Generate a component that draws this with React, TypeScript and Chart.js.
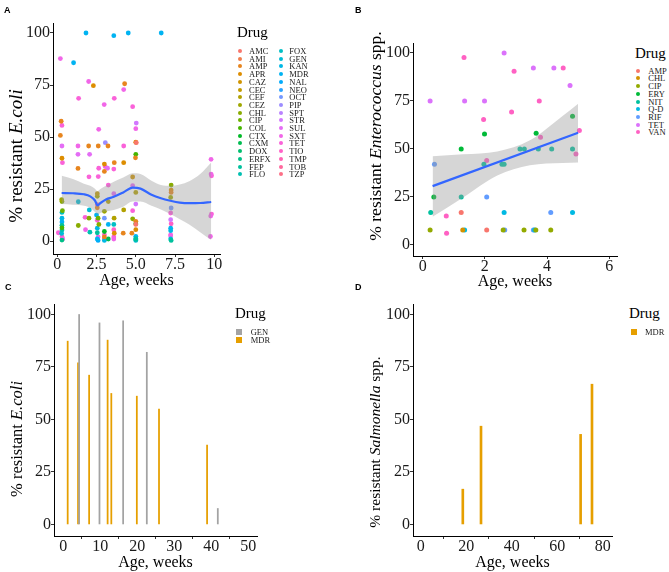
import React, { useEffect, useRef } from 'react';
import { Chart, registerables } from 'chart.js';
Chart.register(...registerables);

const SERIF = '"Liberation Serif", "Times New Roman", Times, serif';
const SANS = '"Liberation Sans", Arial, sans-serif';

// ---------------- shared ----------------
const yTickValues = [0, 25, 50, 75, 100];
const yTickLabels = ['0', '25', '50', '75', '100'];

// ---------------- Panel A ----------------
const drugsA = ['AMC', 'AMI', 'AMP', 'APR', 'CAZ', 'CEC', 'CEF', 'CEZ', 'CHL', 'CIP', 'COL', 'CTX', 'CXM', 'DOX', 'ERFX', 'FEP', 'FLO',
  'FOX', 'GEN', 'KAN', 'MDR', 'NAL', 'NEO', 'OCT', 'PIP', 'SPT', 'STR', 'SUL', 'SXT', 'TET', 'TIO', 'TMP', 'TOB', 'TZP'];

const ageA = [
  0.20, 0.25, 0.30, 0.20, 0.30, 0.30, 0.33, 0.28, 0.30, 0.33, 0.30, 0.30, 0.30, 0.30, 0.30, 0.30, 0.28, 0.07, 0.30, 0.35, 0.30,
  1.04, 1.36, 1.32, 1.32, 1.32, 1.34, 1.34,
  1.83, 2.00, 2.00, 2.06, 2.02, 1.77, 1.80, 2.04, 2.02, 2.08, 2.30,
  2.61, 2.64, 2.64, 2.61, 2.55, 2.55, 2.55, 2.55, 2.50, 2.60, 2.55, 2.65, 2.55, 2.55, 2.60, 2.55, 2.60,
  2.99, 3.06, 3.23, 3.00, 3.05, 3.00, 3.20, 3.25, 3.25, 3.00, 3.00, 3.25, 3.00, 3.00, 3.00, 3.00, 3.25, 3.00,
  3.60, 3.63, 3.63, 3.60, 3.60, 3.62, 3.60, 3.60, 3.63, 3.60, 3.60,
  4.29, 4.23, 4.23, 4.23, 4.23, 4.20, 4.52,
  4.80, 5.03, 5.00, 5.00, 5.03, 5.00, 4.98, 4.80, 4.80, 5.00, 5.00, 4.80, 4.80, 5.00, 5.00, 5.00, 5.00, 4.75, 5.00, 5.00, 5.00, 5.00,
  6.62, 7.25, 7.25, 7.25, 7.22, 7.25, 7.22, 7.22, 7.25, 7.22, 7.22, 7.22, 7.22, 7.22, 7.25,
  9.79, 9.79, 9.82, 9.82, 9.77, 9.75,
];
const pctA = [
  87.7, 57.6, 55.6, 50.8, 45.7, 39.8, 37.7, 19.9, 19.0, 14.6, 13.8, 11.0, 9.2, 7.6, 6.4, 5.3, 3.7, 4.0, 2.1, 1.0, 0.5,
  85.7, 68.6, 45.7, 41.7, 34.9, 18.9, 7.5,
  100, 76.7, 45.7, 41.7, 30.9, 11.4, 5.5, 15.0, 11.0, 4.3, 74.7,
  45.7, 53.7, 35.0, 31.0, 22.8, 21.5, 16.0, 17.5, 12.5, 11.0, 10.0, 8.0, 6.2, 4.0, 2.0, 1.0, 0.3,
  65.6, 47.3, 45.7, 37.0, 35.8, 33.5, 35.0, 26.9, 19.0, 14.3, 11.0, 8.0, 4.6, 3.0, 2.0, 1.0, 1.0, 0.3,
  98.7, 68.6, 37.7, 34.6, 22.8, 11.0, 8.0, 5.5, 3.8, 2.0, 1.0,
  75.6, 72.8, 45.7, 37.7, 15.0, 3.8, 100,
  64.6, 56.7, 54.0, 47.5, 47.3, 41.7, 40.0, 30.8, 26.6, 23.4, 17.8, 14.6, 10.7, 9.5, 8.3, 8.0, 5.5, 3.8, 2.3, 1.3, 0.8, 0.3,
  100, 26.9, 24.5, 23.4, 21.0, 15.9, 13.5, 10.3, 8.3, 6.2, 5.0, 3.0, 2.5, 1.0, 0.3,
  39.3, 32.2, 31.4, 13.0, 12.0, 2.2,
];
const drugA = [
  'SXT', 'AMP', 'TET', 'AMP', 'SUL', 'APR', 'TET', 'CEZ', 'CHL', 'CIP', 'FOX', 'KAN', 'MDR', 'FEP', 'COL', 'FLO', 'GEN', 'TET', 'TIO', 'SXT', 'ERFX',
  'MDR', 'TET', 'SXT', 'SUL', 'AMP', 'GEN', 'CHL',
  'MDR', 'SXT', 'AMP', 'SUL', 'TET', 'TET', 'SXT', 'GEN', 'CHL', 'FLO', 'APR',
  'AMP', 'SXT', 'TET', 'TET', 'CEC', 'CEZ', 'AMP', 'TMP', 'MDR', 'CIP', 'TET', 'CHL', 'KAN', 'FEP', 'SXT', 'MDR', 'NAL',
  'SXT', 'PIP', 'AMP', 'APR', 'TET', 'AMP', 'SUL', 'TET', 'CEF', 'CEZ', 'OCT', 'MDR', 'CTX', 'TET', 'AMP', 'TIO', 'CXM', 'KAN',
  'MDR', 'TET', 'AMP', 'TET', 'SUL', 'CEF', 'FOX', 'TIO', 'APR', 'TET', 'SXT',
  'AMP', 'SXT', 'TET', 'APR', 'CEF', 'AMP', 'MDR',
  'TET', 'STR', 'SXT', 'APR', 'AMC', 'COL', 'AMP', 'CAZ', 'SUL', 'CEF', 'STR', 'TET', 'CHL', 'AMP', 'CTX', 'AMC', 'APR', 'AMP', 'MDR', 'FLO', 'FEP', 'GEN',
  'MDR', 'CHL', 'APR', 'AMP', 'CEZ', 'OCT', 'TET', 'STR', 'TIO', 'MDR', 'KAN', 'TET', 'SXT', 'GEN', 'FEP',
  'SXT', 'SXT', 'TET', 'TET', 'SXT', 'SXT',
];
const smoothXA = [0.28, 1.0, 1.7, 2.1, 2.4, 2.57, 2.75, 3.1, 3.6, 4.2, 4.8, 5.3, 6.0, 6.6, 7.2, 7.8, 8.4, 9.1, 9.8];
const smoothYA = [23.1, 23.0, 22.5, 21.5, 19.5, 17.2, 18.3, 20.0, 21.3, 23.4, 25.7, 25.2, 22.3, 20.6, 19.4, 18.5, 18.2, 18.3, 18.8];
const smoothHighA = [31.4, 29.8, 27.6, 26.6, 25.2, 24.0, 25.0, 26.6, 28.5, 30.5, 32.6, 32.2, 29.0, 27.0, 26.6, 27.2, 28.8, 32.2, 37.8];
const smoothLowA = [17.8, 17.5, 17.0, 16.0, 14.0, 12.8, 13.5, 14.2, 15.0, 16.5, 19.0, 19.0, 17.0, 15.2, 13.0, 10.5, 8.0, 4.3, 0.5];
const xTicksA = [0, 2.5, 5, 7.5, 10];
const xTickLabelsA = ['0', '2.5', '5.0', '7.5', '10'];

// ---------------- Panel B ----------------
const drugsB = ['AMP', 'CHL', 'CIP', 'ERY', 'NIT', 'Q-D', 'RIF', 'TET', 'VAN'];
const ageB = [
  0.24, 1.35, 1.99, 2.62, 3.56, 4.22, 4.74,
  1.33, 2.94, 4.52, 3.75, 2.86, 1.96, 5.04, 3.79, 4.93, 2.06, 0.76, 0.77,
  1.99, 4.82, 3.65, 1.24, 0.36,
  3.13, 3.27, 3.72, 4.15, 4.82, 1.97, 2.55, 2.62, 1.24, 0.26,
  0.38, 2.06, 4.12, 2.64, 3.56,
  1.24, 2.06,
  2.62, 4.82, 1.35, 3.60,
  1.29,
  0.24, 2.59, 3.26, 3.64, 4.12,
];
const pctB = [
  74.8, 74.8, 74.8, 99.8, 92.0, 92.0, 82.8,
  97.4, 90.3, 92.0, 74.8, 69.0, 65.1, 59.4, 55.9, 47.2, 43.8, 14.9, 5.9,
  57.6, 66.8, 58.0, 49.8, 24.8,
  49.8, 49.8, 49.8, 49.8, 49.8, 41.8, 41.8, 41.8, 24.8, 16.7,
  41.8, 24.8, 16.7, 7.6, 7.6,
  16.7, 7.6,
  16.7, 16.7, 7.6, 7.6,
  7.6,
  7.6, 7.6, 7.6, 7.6, 7.6,
];
const drugB = [
  'TET', 'TET', 'TET', 'TET', 'TET', 'TET', 'TET',
  'VAN', 'VAN', 'VAN', 'VAN', 'VAN', 'VAN', 'VAN', 'VAN', 'VAN', 'VAN', 'VAN', 'VAN',
  'ERY', 'ERY', 'ERY', 'ERY', 'ERY',
  'NIT', 'NIT', 'NIT', 'NIT', 'NIT', 'NIT', 'NIT', 'NIT', 'NIT', 'NIT',
  'RIF', 'RIF', 'RIF', 'RIF', 'RIF',
  'AMP', 'AMP',
  'Q-D', 'Q-D', 'Q-D', 'Q-D',
  'CHL',
  'CIP', 'CIP', 'CIP', 'CIP', 'CIP',
];
const fitXB = [0.32, 5.0];
const fitYB = [30.4, 58.2];
const bandXB = [0.32, 1.3, 2.4, 3.45, 4.5, 5.0];
const bandHighB = [46.0, 47.0, 48.5, 54.3, 67.0, 73.4];
const bandLowB = [14.4, 24.5, 36.0, 41.3, 42.5, 42.7];
const xTicksB = [0, 2, 4, 6];
const xTickLabelsB = ['0', '2', '4', '6'];

// ---------------- Panel C ----------------
const genAgeC = [4.3, 9.8, 16.2, 22.6, 41.8];
const genPctC = [100, 96, 97, 82, 7.6];
const mdrAgeC = [1.2, 4.0, 7.0, 12.0, 13.0, 19.9, 25.9, 38.9];
const mdrPctC = [87.3, 77, 71.1, 87.8, 62.4, 61.1, 54.9, 37.8];
const xTicksC = [0, 10, 20, 30, 40, 50];
const xTickLabelsC = ['0', '10', '20', '30', '40', '50'];

// ---------------- Panel D ----------------
const mdrAgeD = [18.5, 26.5, 70.3, 75.3];
const mdrPctD = [16.8, 46.8, 42.9, 66.8];
const xTicksD = [0, 20, 40, 60, 80];
const xTickLabelsD = ['0', '20', '40', '60', '80'];

const GEN_GREY = '#A3A3A3';
const MDR_ORANGE = '#E69F00';

// ---------------- colour helpers (ggplot hue palette) ----------------
function hcl(h: number, c: number, l: number): string {
  const hr = (h * Math.PI) / 180;
  const U = c * Math.cos(hr);
  const V = c * Math.sin(hr);
  const Xn = 95.047, Yn = 100, Zn = 108.883;
  const den = Xn + 15 * Yn + 3 * Zn;
  const un = (4 * Xn) / den, vn = (9 * Yn) / den;
  const Y = l > 8 ? Yn * Math.pow((l + 16) / 116, 3) : (Yn * l) / 903.3;
  const u = U / (13 * l) + un;
  const v = V / (13 * l) + vn;
  const X = (9 * Y * u) / (4 * v);
  const Z = -X / 3 - 5 * Y + (3 * Y) / v;
  const x = X / 100, y = Y / 100, z = Z / 100;
  const lin = [
    3.240479 * x - 1.53715 * y - 0.498535 * z,
    -0.969256 * x + 1.875992 * y + 0.041556 * z,
    0.055648 * x - 0.204043 * y + 1.057311 * z,
  ];
  const hex = lin
    .map((t) => {
      const g = t <= 0.0031308 ? 12.92 * t : 1.055 * Math.pow(t, 1 / 2.4) - 0.055;
      const k = Math.round(Math.min(1, Math.max(0, g)) * 255);
      return k.toString(16).padStart(2, '0');
    })
    .join('');
  return '#' + hex;
}
function huePal(n: number): string[] {
  const out: string[] = [];
  for (let i = 0; i < n; i++) out.push(hcl(15 + (360 * i) / n, 100, 65));
  return out;
}
const colorsA = huePal(drugsA.length);
const colorsB = huePal(drugsB.length);

// ---------------- chart builders ----------------
type Spec = {
  left: number; top: number; width: number; height: number;
  area: { l: number; t: number; r: number; b: number };
  xMin: number; xMax: number; yMin: number; yMax: number;
  xTicks: number[]; xLabels: string[];
  type: 'scatter' | 'bar';
  datasets: any[];
};

function scaleCommon() {
  return {
    grid: { display: true, drawOnChartArea: false, drawTicks: true, tickLength: 3, color: '#333333', lineWidth: 1 },
    border: { display: true, color: '#000000', width: 1 },
  };
}

function buildConfig(s: Spec): any {
  const padRight = s.width - s.area.r;
  const xHeight = s.height - s.area.b;
  return {
    type: s.type,
    data: { datasets: s.datasets },
    options: {
      responsive: false,
      animation: false,
      devicePixelRatio: 1,
      events: [],
      layout: { padding: { left: 0, top: s.area.t, right: padRight, bottom: 0 } },
      plugins: { legend: { display: false }, tooltip: { enabled: false } },
      scales: {
        x: {
          type: 'linear',
          min: s.xMin,
          max: s.xMax,
          offset: false,
          afterBuildTicks: (sc: any) => { sc.ticks = s.xTicks.map((v) => ({ value: v })); },
          afterFit: (sc: any) => { sc.height = xHeight; sc.paddingLeft = 0; sc.paddingRight = 0; },
          ticks: {
            autoSkip: false, maxRotation: 0, minRotation: 0, padding: -2,
            font: { family: SERIF, size: 16 }, color: '#1a1a1a',
            callback: (_v: any, i: number) => s.xLabels[i],
          },
          ...scaleCommon(),
        },
        y: {
          type: 'linear',
          min: s.yMin,
          max: s.yMax,
          afterBuildTicks: (sc: any) => { sc.ticks = yTickValues.map((v) => ({ value: v })); },
          afterFit: (sc: any) => { sc.width = s.area.l; sc.paddingTop = 0; sc.paddingBottom = 0; },
          ticks: {
            autoSkip: false, padding: 0,
            font: { family: SERIF, size: 16 }, color: '#1a1a1a',
            callback: (_v: any, i: number) => yTickLabels[i],
          },
          ...scaleCommon(),
        },
      },
    },
  };
}

function pointsFor(drugs: string[], colors: string[], ages: number[], pcts: number[], drugOf: string[], radius: number) {
  const sets: any[] = [];
  drugs.forEach((d, k) => {
    const pts = ages.map((a, i) => ({ x: a, y: pcts[i], d: drugOf[i] })).filter((p) => p.d === d).map((p) => ({ x: p.x, y: p.y }));
    if (!pts.length) return;
    sets.push({
      type: 'scatter', label: d, data: pts, backgroundColor: colors[k], borderWidth: 0,
      pointRadius: radius, pointHoverRadius: radius, order: 2,
    });
  });
  return sets;
}

function smoothSets(xs: number[], low: number[], high: number[], fx: number[], fy: number[], mode: string) {
  return [
    {
      type: 'line', label: 'low', data: xs.map((x, i) => ({ x, y: low[i] })), showLine: true,
      borderColor: 'rgba(0,0,0,0)', borderWidth: 0, pointRadius: 0, fill: false, order: 1,
      cubicInterpolationMode: mode,
    },
    {
      type: 'line', label: 'high', data: xs.map((x, i) => ({ x, y: high[i] })), showLine: true,
      borderColor: 'rgba(0,0,0,0)', borderWidth: 0, pointRadius: 0, fill: '-1',
      backgroundColor: 'rgba(153,153,153,0.4)', order: 1, cubicInterpolationMode: mode,
    },
    {
      type: 'line', label: 'fit', data: fx.map((x, i) => ({ x, y: fy[i] })), showLine: true,
      borderColor: '#3366FF', borderWidth: 2.2, pointRadius: 0, fill: false, order: 0,
      cubicInterpolationMode: mode,
    },
  ];
}

const specA: Spec = {
  left: 0, top: 0, width: 230, height: 300,
  area: { l: 53, t: 23, r: 220, b: 254 },
  xMin: -0.27, xMax: 10.36, yMin: -6.2, yMax: 104.8,
  xTicks: xTicksA, xLabels: xTickLabelsA, type: 'scatter',
  datasets: [
    ...pointsFor(drugsA, colorsA, ageA, pctA, drugA, 2.4),
    ...smoothSets(smoothXA, smoothLowA, smoothHighA, smoothXA, smoothYA, 'monotone'),
  ],
};

const specB: Spec = {
  left: 360, top: 0, width: 270, height: 300,
  area: { l: 53, t: 43, r: 257, b: 256 },
  xMin: -0.31, xMax: 6.25, yMin: -6, yMax: 105,
  xTicks: xTicksB, xLabels: xTickLabelsB, type: 'scatter',
  datasets: [
    ...pointsFor(drugsB, colorsB, ageB, pctB, drugB, 2.5),
    ...smoothSets(bandXB, bandLowB, bandHighB, fitXB, fitYB, 'monotone'),
  ],
};

function barSet(label: string, ages: number[], pcts: number[], color: string) {
  return {
    type: 'bar', label, data: ages.map((a, i) => ({ x: a, y: pcts[i] })),
    backgroundColor: color, borderWidth: 0, grouped: false, maxBarThickness: 2,
    barPercentage: 1, categoryPercentage: 1,
  };
}

const specC: Spec = {
  left: 0, top: 280, width: 265, height: 292,
  area: { l: 54, t: 24, r: 257, b: 256 },
  xMin: -2.5, xMax: 52.4, yMin: -5.5, yMax: 105,
  xTicks: xTicksC, xLabels: xTickLabelsC, type: 'bar',
  datasets: [barSet('GEN', genAgeC, genPctC, GEN_GREY), barSet('MDR', mdrAgeC, mdrPctC, MDR_ORANGE)],
};

const specD: Spec = {
  left: 360, top: 280, width: 260, height: 292,
  area: { l: 53, t: 24, r: 252, b: 256 },
  xMin: -3.4, xMax: 84.1, yMin: -5.5, yMax: 105,
  xTicks: xTicksD, xLabels: xTickLabelsD, type: 'bar',
  datasets: [barSet('MDR', mdrAgeD, mdrPctD, MDR_ORANGE)],
};

// ---------------- components ----------------
function ChartCanvas({ spec }: { spec: Spec }) {
  const ref = useRef<HTMLCanvasElement>(null);
  useEffect(() => {
    const chart = new Chart(ref.current as HTMLCanvasElement, buildConfig(spec));
    return () => chart.destroy();
  }, []);
  return (
    <canvas
      ref={ref}
      width={spec.width}
      height={spec.height}
      style={{ position: 'absolute', left: spec.left, top: spec.top, width: spec.width, height: spec.height }}
    />
  );
}

const abs = (left: number, top: number): React.CSSProperties => ({ position: 'absolute', left, top });

function YTitle({ cx, cy, size, children }: { cx: number; cy: number; size: number; children: React.ReactNode }) {
  return (
    <div style={{
      ...abs(cx, cy), transform: 'translate(-50%, -50%) rotate(-90deg)', whiteSpace: 'nowrap',
      fontFamily: SERIF, fontSize: size, lineHeight: 1, color: '#000',
    }}>{children}</div>
  );
}
function XTitle({ cx, cy, size }: { cx: number; cy: number; size: number }) {
  return (
    <div style={{
      ...abs(cx, cy), transform: 'translate(-50%, -50%)', whiteSpace: 'nowrap',
      fontFamily: SERIF, fontSize: size, lineHeight: 1, color: '#000',
    }}>Age, weeks</div>
  );
}
function Letter({ x, y, t }: { x: number; y: number; t: string }) {
  return <div style={{ ...abs(x, y), fontFamily: SANS, fontWeight: 'bold', fontSize: 9, lineHeight: 1, color: '#000' }}>{t}</div>;
}
function LegendTitle({ x, cy }: { x: number; cy: number }) {
  return <div style={{ ...abs(x, cy), transform: 'translateY(-50%)', fontFamily: SERIF, fontSize: 15, lineHeight: 1, color: '#000' }}>Drug</div>;
}
function LegendItem({ kx, cy, tx, color, label, square }: { kx: number; cy: number; tx: number; color: string; label: string; square?: boolean }) {
  const size = square ? 6 : 4;
  return (
    <>
      <div style={{
        ...abs(kx - size / 2, cy - size / 2), width: size, height: size,
        borderRadius: square ? 0 : '50%', background: color,
      }} />
      <div style={{
        ...abs(tx, cy), transform: 'translateY(-50%)', fontFamily: SERIF, fontSize: 8.5,
        lineHeight: 1, color: '#1a1a1a', whiteSpace: 'nowrap',
      }}>{label}</div>
    </>
  );
}

export default function App() {
  const half = Math.ceil(drugsA.length / 2);
  return (
    <div style={{ position: 'fixed', left: 0, top: 0, width: 669, height: 572, background: '#fff', overflow: 'hidden' }}>
      <ChartCanvas spec={specA} />
      <ChartCanvas spec={specB} />
      <ChartCanvas spec={specC} />
      <ChartCanvas spec={specD} />

      <Letter x={4} y={6} t="A" />
      <Letter x={355} y={6} t="B" />
      <Letter x={5} y={283} t="C" />
      <Letter x={355} y={283} t="D" />

      <YTitle cx={15} cy={156} size={19}>% resistant <i>E.coli</i></YTitle>
      <YTitle cx={376} cy={136} size={17.5}>% resistant <i>Enterococcus</i> spp.</YTitle>
      <YTitle cx={17} cy={439} size={16.5}>% resistant <i>E.coli</i></YTitle>
      <YTitle cx={375} cy={442} size={15.5}>% resistant <i>Salmonella</i> spp.</YTitle>

      <XTitle cx={136.5} cy={280} size={16} />
      <XTitle cx={515} cy={281} size={16} />
      <XTitle cx={155.5} cy={562} size={16} />
      <XTitle cx={512.5} cy={562} size={16} />

      <LegendTitle x={237} cy={32} />
      {drugsA.map((d, i) => {
        const col = i < half ? 0 : 1;
        const row = col === 0 ? i : i - half;
        return (
          <LegendItem key={d} kx={col === 0 ? 240 : 280.7} tx={col === 0 ? 249 : 289.3}
            cy={51 + row * 7.7} color={colorsA[i]} label={d} />
        );
      })}

      <LegendTitle x={635} cy={53} />
      {drugsB.map((d, i) => (
        <LegendItem key={d} kx={638.3} tx={648.3} cy={70.7 + i * 7.7} color={colorsB[i]} label={d} />
      ))}

      <LegendTitle x={235} cy={313} />
      <LegendItem kx={239.3} tx={250.7} cy={331.7} color={GEN_GREY} label="GEN" square />
      <LegendItem kx={239.3} tx={250.7} cy={340} color={MDR_ORANGE} label="MDR" square />

      <LegendTitle x={629} cy={313} />
      <LegendItem kx={634} tx={645} cy={332.3} color={MDR_ORANGE} label="MDR" square />
    </div>
  );
}
